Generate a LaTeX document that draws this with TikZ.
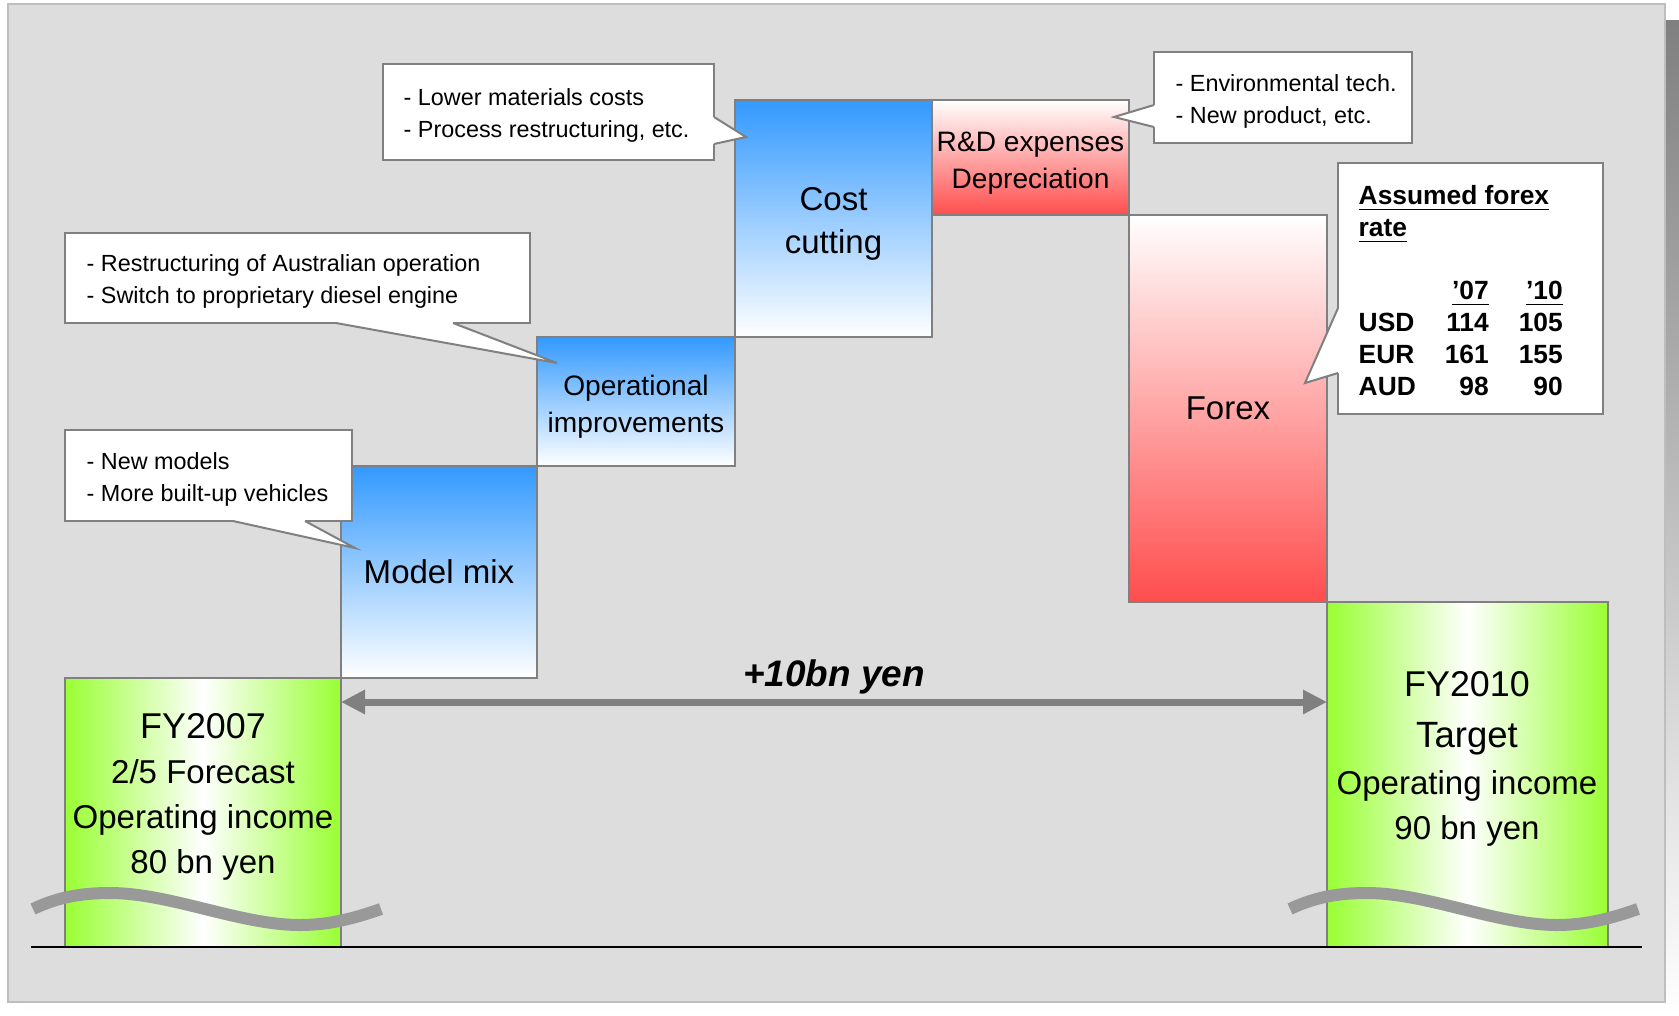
\documentclass[tikz,border=0pt]{standalone}
\usepackage{fontspec}
\setmainfont{Liberation Sans}
\usepackage{tikz}
\usetikzlibrary{arrows.meta, positioning, calc}
\definecolor{panelbg}{RGB}{221, 221, 221}
\definecolor{panelrim}{RGB}{190, 190, 190}
\definecolor{shade}{RGB}{128, 128, 128}
\definecolor{rimgray}{RGB}{128, 128, 128}
\definecolor{gainblue}{RGB}{51, 153, 255}
\definecolor{lossred}{RGB}{255, 77, 77}
\definecolor{basegreen}{RGB}{153, 255, 51}
\definecolor{wavegray}{RGB}{153, 153, 153}

\begin{document}
\begin{tikzpicture}[
    x=0.1mm, y=-0.1mm,
    barBox/.style={draw=rimgray, line width=0.15mm, inner sep=0pt, outer sep=0pt, align=center, font=\fontsize{9.4}{12.4}\selectfont},
    gainBar/.style={barBox, top color=gainblue, bottom color=white},
    lossBar/.style={barBox, top color=white, bottom color=lossred},
    baseBar/.style={barBox, left color=basegreen, right color=basegreen, middle color=white},
    smallText/.style={font=\fontsize{8}{10.6}\selectfont},
    baseText/.style={inner sep=0pt, align=center, font=\fontsize{9.4}{12.8}\selectfont},
    noteBox/.style={draw=rimgray, fill=white, line width=0.2mm, inner sep=0pt, outer sep=0pt},
    noteText/.style={inner sep=0pt, align=left, font=\fontsize{6.65}{9.1}\selectfont},
    noteTail/.style={draw=rimgray, line width=0.2mm, line join=miter},
    gapArrow/.style={draw=shade, line width=0.7mm, {Triangle[length=2.4mm, width=2.3mm]}-{Triangle[length=2.4mm, width=2.3mm]}},
    breakLine/.style={draw=wavegray, line width=1.2mm}
]
\useasboundingbox (0,0) rectangle (1679,1015);

% Panel with shadow
\fill[shade] (24,20) rectangle (1679,1015);
\filldraw[fill=panelbg, draw=panelrim, line width=0.2mm] (7.5,4) rectangle (1665,1002);

% Waterfall bars
\node[baseBar, anchor=south west, minimum width=27.6mm, minimum height=26.9mm] (fy07) at (65,947) {};
\node[gainBar, anchor=south west, minimum width=19.6mm, minimum height=21.2mm] (mix) at (fy07.north east) {Model mix};
\node[gainBar, smallText, anchor=south west, minimum width=19.8mm, minimum height=12.9mm] (ops) at (mix.north east) {\rule{0pt}{8.6pt}Operational\\improvements};
\node[gainBar, anchor=south west, minimum width=19.7mm, minimum height=23.7mm] (cost) at (ops.north east) {\rule{0pt}{9.6pt}Cost\\cutting};
\node[lossBar, smallText, anchor=north west, minimum width=19.7mm, minimum height=11.5mm] (rnd) at (cost.north east) {\rule{0pt}{8.6pt}R\&D expenses\\Depreciation};
\node[lossBar, anchor=north west, minimum width=19.8mm, minimum height=38.7mm] (forex) at (rnd.south east) {Forex};
\node[baseBar, anchor=north west, minimum width=28.1mm, minimum height=34.5mm] (fy10) at (forex.south east) {};

% Ground line and breaks
\draw[black, line width=0.2mm] (31,947) -- (1642,947);
\draw[breakLine] (33,909) .. controls (60,896) and (85,893) .. (110,893)
    .. controls (170,893) and (240,925) .. (300,925)
    .. controls (330,925) and (355,918) .. (381,909);
\draw[breakLine, xshift=125.7mm] (33,909) .. controls (60,896) and (85,893) .. (110,893)
    .. controls (170,893) and (240,925) .. (300,925)
    .. controls (330,925) and (355,918) .. (381,909);

\node[baseText] (fy07txt) at (203,797) {{\fontsize{10.2}{12.8}\selectfont FY2007}\\2/5 Forecast\\Operating income\\80 bn yen};
\node[baseText] (fy10txt) at (1467,759) {{\fontsize{10.2}{12.8}\selectfont FY2010}\\[1.7pt]{\fontsize{10.4}{12.8}\selectfont Target}\\[0.6pt]Operating income\\90 bn yen};

% Gap arrow
\coordinate (arrowL) at ($(fy07.north east)+(0,24)$);
\draw[gapArrow] (arrowL) -- (arrowL -| fy10.west)
    node[midway, above=0.45mm, inner sep=0pt, font=\fontsize{10.5}{12}\selectfont\bfseries\itshape] (gapLabel) {+10bn yen};

% Callouts
\node[noteBox, anchor=north west, minimum width=33.1mm, minimum height=9.6mm] (noteCost) at (383,64) {};
\coordinate (tipCost) at ($(cost.north west)+(11,37)$);
\fill[white] ($(noteCost.north east)+(-3,53)$) -- ($(noteCost.north east)+(0,53)$) -- (tipCost) -- ($(noteCost.north east)+(0,80)$) -- ($(noteCost.north east)+(-3,80)$) -- cycle;
\draw[noteTail] ($(noteCost.north east)+(0,53)$) -- (tipCost) -- ($(noteCost.north east)+(0,80)$);
\node[noteText, anchor=west] (noteCostTxt) at ($(noteCost.west)+(20,3.5)$) {- Lower materials costs\\- Process restructuring, etc.};

\node[noteBox, anchor=north west, minimum width=46.5mm, minimum height=9.0mm] (noteOps) at (65,233) {};
\coordinate (tipOps) at ($(ops.north west)+(20,26)$);
\fill[white] ($(noteOps.south west)+(271,-3)$) -- ($(noteOps.south west)+(271,0)$) -- (tipOps) -- ($(noteOps.south west)+(388,0)$) -- ($(noteOps.south west)+(388,-3)$) -- cycle;
\draw[noteTail] ($(noteOps.south west)+(271,0)$) -- (tipOps) -- ($(noteOps.south west)+(388,0)$);
\node[noteText, anchor=west] (noteOpsTxt) at ($(noteOps.west)+(21,3.5)$) {- Restructuring of Australian operation\\- Switch to proprietary diesel engine};

\node[noteBox, anchor=north west, minimum width=28.7mm, minimum height=9.1mm] (noteMix) at (65,430) {};
\coordinate (tipMix) at ($(mix.north west)+(14,82)$);
\fill[white] ($(noteMix.south west)+(168,-3)$) -- ($(noteMix.south west)+(168,0)$) -- (tipMix) -- ($(noteMix.south west)+(240,0)$) -- ($(noteMix.south west)+(240,-3)$) -- cycle;
\draw[noteTail] ($(noteMix.south west)+(168,0)$) -- (tipMix) -- ($(noteMix.south west)+(240,0)$);
\node[noteText, anchor=west] (noteMixTxt) at ($(noteMix.west)+(21,3.5)$) {- New models\\- More built-up vehicles};

\node[noteBox, anchor=north west, minimum width=25.75mm, minimum height=9.1mm] (noteRnd) at (1154,52) {};
\coordinate (tipRnd) at ($(rnd.north east)+(-15,17)$);
\fill[white] ($(noteRnd.north west)+(3,53)$) -- ($(noteRnd.north west)+(0,53)$) -- (tipRnd) -- ($(noteRnd.north west)+(0,75)$) -- ($(noteRnd.north west)+(3,75)$) -- cycle;
\draw[noteTail] ($(noteRnd.north west)+(0,53)$) -- (tipRnd) -- ($(noteRnd.north west)+(0,75)$);
\node[noteText, anchor=west] (noteRndTxt) at ($(noteRnd.west)+(21,3.5)$) {- Environmental tech.\\- New product, etc.};

\node[noteBox, anchor=north west, minimum width=26.5mm, minimum height=25.1mm] (noteFx) at (1338,163) {};
\coordinate (tipFx) at ($(forex.north east)+(-22,168)$);
\fill[white] ($(noteFx.north west)+(3,145)$) -- ($(noteFx.north west)+(0,145)$) -- (tipFx) -- ($(noteFx.north west)+(0,210)$) -- ($(noteFx.north west)+(3,210)$) -- cycle;
\draw[noteTail] ($(noteFx.north west)+(0,145)$) -- (tipFx) -- ($(noteFx.north west)+(0,210)$);
\node[noteText, anchor=north west, font=\fontsize{7.5}{9.1}\selectfont\bfseries] (noteFxTxt) at ($(noteFx.north west)+(20,18)$) {%
\begin{tabular}{@{}l@{\hspace{2.9mm}}r@{\hspace{3.0mm}}r@{}}
\multicolumn{3}{@{}l@{}}{\underline{Assumed forex}}\\
\multicolumn{3}{@{}l@{}}{\underline{rate}}\\[8.9pt]
 & \underline{’07} & \underline{’10}\\
USD & 114 & 105\\
EUR & 161 & 155\\
AUD & 98 & 90
\end{tabular}};

\end{tikzpicture}
\end{document}
